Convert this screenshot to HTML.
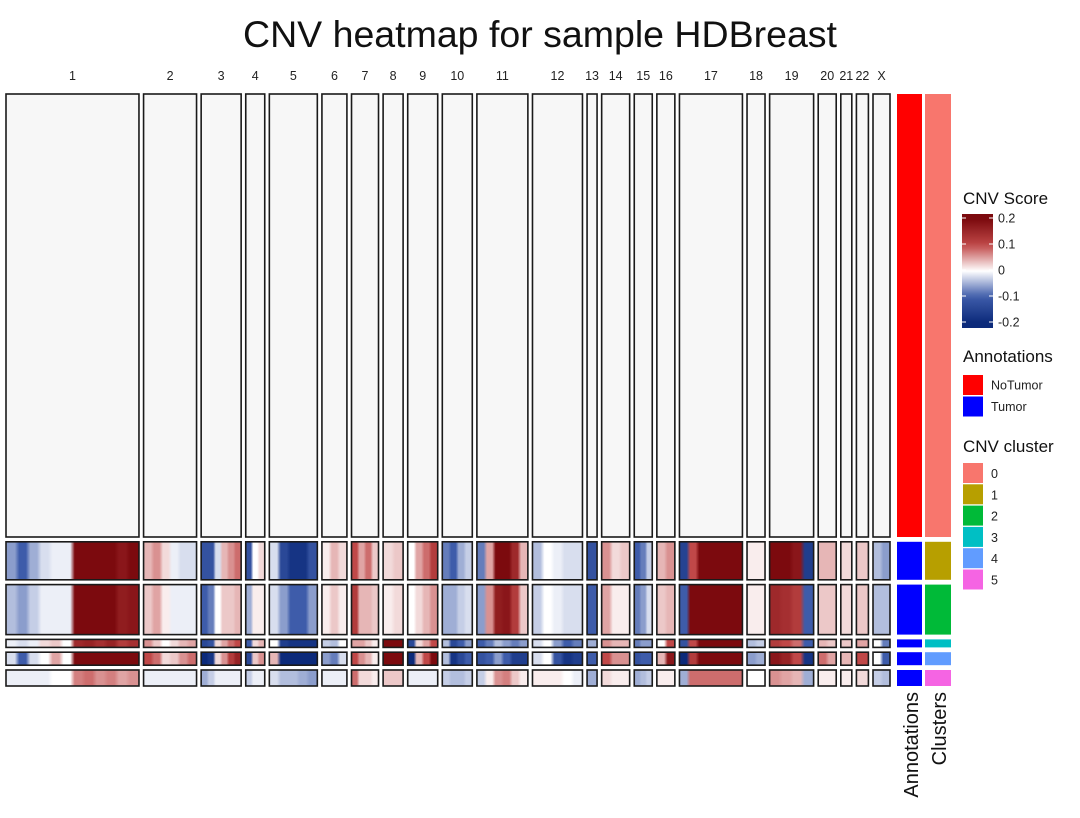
<!DOCTYPE html>
<html><head><meta charset="utf-8"><style>
body{margin:0;background:#fff;}
svg{display:block;font-family:"Liberation Sans",Arial,sans-serif;}
</style></head><body>
<svg id="chart" width="1080" height="818" viewBox="0 0 1080 818">
<text x="540" y="47" text-anchor="middle" font-size="37.5" fill="#111">CNV heatmap for sample HDBreast</text>
<defs id="defs"></defs>
<g id="heat"></g>
<g id="legend"></g>
</svg>
<script>
const chromosomes = ["1","2","3","4","5","6","7","8","9","10","11","12","13","14","15","16","17","18","19","20","21","22","X"];
const geneCounts = [133,53,40,19,48,25,27,20,30,30,51,50,10,28,18,18,63,18,44,18,11,12,17];
const clusterIds = ["0","1","2","3","4","5"];
const cellCounts = [443,38,50,8,13,16];
const annotations = ["NoTumor","Tumor","Tumor","Tumor","Tumor","Tumor"];
const cnvCluster1 = [[-0.06,-0.1,-0.05,-0.02,-0.01,-0.01,0.2,0.2,0.2,0.2,0.18,0.2],[0.04,0.06,0.02,-0.01,-0.02,-0.02],[-0.12,-0.12,-0.02,0.04,0.06,0.08],[-0.12,0.0,0.02],[-0.02,-0.14,-0.18,-0.18,-0.12],[0.01,0.04,0.02],[0.1,0.05,0.08,0.03],[0.02,0.03],[0.0,0.05,0.08,0.12],[-0.08,-0.1,-0.05,-0.03],[-0.08,0.05,0.2,0.2,0.15,0.04],[-0.04,0,-0.01,-0.02,-0.02],[-0.12],[0.06,0.02,0.03],[-0.1,-0.08,-0.03],[0.04,0.06],[-0.15,0.1,0.2,0.2,0.2,0.2,0.2],[0.01,0.01],[0.2,0.2,0.18,-0.16],[0.04,0.04],[0.02],[0.03],[-0.04,-0.06]];
const cnvCluster2 = [[-0.04,-0.06,-0.03,-0.01,-0.01,-0.01,0.2,0.2,0.2,0.2,0.17,0.18],[0.03,0.05,0.01,-0.01,-0.01,-0.01],[-0.1,-0.08,0,0.03,0.03,0.04],[-0.05,0.01,0.01],[-0.02,-0.06,-0.1,-0.1,-0.06],[0.01,0.03,0.01],[0.12,0.04,0.04,0.03],[0.01,0.02],[0.0,0.02,0.04,0.06],[-0.05,-0.05,-0.03,-0.02],[-0.06,0.06,0.17,0.18,0.12,0.03],[-0.03,0,-0.01,-0.02,-0.02],[-0.1],[0.05,0.01,0.01],[-0.08,-0.06,-0.02],[0.03,0.04],[-0.1,0.2,0.2,0.2,0.2,0.2,0.2],[0.01,0.01],[0.15,0.14,0.12,-0.1],[0.03,0.03],[0.02],[0.03],[-0.04,-0.04]];
const cnvCluster3 = [[-0.01,-0.02,-0.01,0.02,0.03,0.0,0.15,0.16,0.14,0.16,0.12,0.14],[0.06,0.03,0.0,0.02,0.04,0.05],[-0.14,-0.12,0.02,0.05,0.08,0.1],[-0.1,0.02,0.04],[0,-0.16,-0.18,-0.18,-0.18],[-0.03,-0.04,0.0],[0.05,0.05,0.03,0.01],[0.2,0.2],[-0.14,0.02,0.05,0.1],[-0.04,-0.14,-0.1,-0.06],[-0.1,-0.08,-0.04,-0.06,-0.08,-0.06],[-0.02,0.0,-0.06,-0.1,-0.08],[-0.05],[0.06,0.04,0.04],[-0.08,-0.06,-0.06],[0.0,0.1],[-0.12,0.1,0.2,0.2,0.2,0.2,0.2],[-0.04,-0.03],[0.12,0.1,0.08,-0.1],[0.04,0.03],[0.03],[0.05],[0.0,-0.08]];
const cnvCluster4 = [[-0.02,-0.1,-0.02,0.0,0.05,0.0,0.2,0.2,0.2,0.2,0.2,0.2],[0.1,0.08,0.02,0.03,0.06,0.08],[-0.2,-0.18,0.02,0.06,0.12,0.16],[-0.14,0.03,0.06],[0.04,-0.2,-0.2,-0.2,-0.2],[-0.06,-0.08,-0.02],[0.1,0.06,0.04,0.01],[0.2,0.2],[-0.2,0.04,0.1,0.2],[-0.04,-0.18,-0.14,-0.1],[-0.12,-0.1,-0.06,-0.1,-0.16,-0.16],[-0.02,0,-0.12,-0.18,-0.16],[-0.1],[0.1,0.06,0.06],[-0.12,-0.1,-0.1],[0.04,0.18],[-0.2,0.12,0.2,0.2,0.2,0.2,0.2],[-0.06,-0.05],[0.18,0.16,0.1,-0.18],[0.08,0.05],[0.04],[0.1],[0.0,-0.1]];
const cnvCluster5 = [[-0.01,-0.01,-0.01,-0.01,0.0,0.0,0.07,0.08,0.06,0.07,0.05,0.06],[-0.01,-0.01,-0.01,-0.01,-0.01,-0.01],[-0.05,-0.03,-0.01,-0.01,-0.01,-0.01],[-0.03,-0.01,-0.01],[-0.02,-0.04,-0.04,-0.05,-0.06],[-0.01,-0.01,-0.01],[0.08,0.02,0.02,0.01],[0.03,0.03],[-0.01,-0.01,-0.01,-0.01],[-0.03,-0.04,-0.04,-0.03],[-0.03,0.01,0.06,0.07,0.03,0.01],[0.01,0.01,0.01,0,-0.01],[-0.05],[0.02,0.01,0.01],[-0.05,-0.04,-0.03],[0.01,0.01],[-0.05,0.08,0.08,0.08,0.08,0.08,0.08],[0.0,0.0],[0.06,0.05,0.04,-0.05],[0.01,0.01],[0.01],[0.02],[-0.03,-0.04]];
const cnvByCluster = [null, cnvCluster1, cnvCluster2, cnvCluster3, cnvCluster4, cnvCluster5];
const scoreTicks = [0.2,0.1,0,-0.1,-0.2];
const annoNames = ["NoTumor","Tumor"];
const annoColors = ["#ff0000","#0000ff"];
const clusterColors = ["#f8766d","#b79f00","#00ba38","#00bfc4","#619cff","#f564e3"];

const NS="http://www.w3.org/2000/svg";
function mk(tag,attrs,parent){const e=document.createElementNS(NS,tag);for(const k in attrs)e.setAttribute(k,attrs[k]);parent.appendChild(e);return e;}
const heat=document.getElementById('heat'), defs=document.getElementById('defs'), leg=document.getElementById('legend');
const X0=6,X1=890,Y0=94,Y1=686,GAPX=4.6,GAPY=4.8;
const totG=geneCounts.reduce((a,b)=>a+b,0), totC=cellCounts.reduce((a,b)=>a+b,0);
const pxPerGene=(X1-X0-GAPX*(geneCounts.length-1))/totG;
const pxPerCell=(Y1-Y0-GAPY*(cellCounts.length-1))/totC;
function xPos(i){let x=X0;for(let k=0;k<i;k++)x+=geneCounts[k]*pxPerGene+GAPX;return x;}
function yPos(j){let y=Y0;for(let k=0;k<j;k++)y+=cellCounts[k]*pxPerCell+GAPY;return y;}
const stops=[[-0.2,[12,42,122]],[-0.1,[62,92,170]],[0,[255,255,255]],[0.1,[192,72,72]],[0.2,[124,10,14]]];
function color(v){v=Math.max(-0.2,Math.min(0.2,v));for(let i=0;i<stops.length-1;i++){const a=stops[i],b=stops[i+1];if(v<=b[0]){const t=(v-a[0])/(b[0]-a[0]);const c=a[1].map((x,k)=>Math.round(x+(b[1][k]-x)*t));return `rgb(${c[0]},${c[1]},${c[2]})`;}}return 'rgb(124,10,14)';}

chromosomes.forEach((c,i)=>{const w=geneCounts[i]*pxPerGene;
 const t=mk('text',{x:xPos(i)+w/2,y:80,'text-anchor':'middle','font-size':12.5,fill:'#222'},heat);t.textContent=c;
 
 
});
let gid=0;
clusterIds.forEach((cl,j)=>{const y=yPos(j),h=cellCounts[j]*pxPerCell;
 chromosomes.forEach((c,i)=>{const x=xPos(i),w=geneCounts[i]*pxPerGene;let fill='#f7f7f7';
  const vals=cnvByCluster[j]?cnvByCluster[j][i]:null;
  if(vals){const id='g'+(gid++);const g=mk('linearGradient',{id:id,x1:0,x2:1,y1:0,y2:0},defs);const n=vals.length;
   vals.forEach((v,k)=>{mk('stop',{offset:(k+0.2)/n,'stop-color':color(v)},g);mk('stop',{offset:(k+0.8)/n,'stop-color':color(v)},g);});fill=`url(#${id})`;}
  const r=mk('rect',{x:x,y:y,width:w,height:h,fill:fill,stroke:'#1a1a1a','stroke-width':1.6},heat);
  
  
 });
 const a=mk('rect',{x:897,y:y,width:25,height:h,fill:annoColors[annoNames.indexOf(annotations[j])]},heat);
 
 
 const b=mk('rect',{x:925,y:y,width:26,height:h,fill:clusterColors[j]},heat);
 
 
});
const at=mk('text',{transform:'translate(918,692) rotate(-90)','text-anchor':'end','font-size':20,fill:'#111'},heat);at.textContent='Annotations';


const ct=mk('text',{transform:'translate(946,692) rotate(-90)','text-anchor':'end','font-size':20,fill:'#111'},heat);ct.textContent='Clusters';



let t=mk('text',{x:963,y:204,'font-size':17,fill:'#111'},leg);t.textContent='CNV Score';


const lg=mk('linearGradient',{id:'cbar',x1:0,x2:0,y1:0,y2:1},defs);
for(let k=0;k<=20;k++){const v=0.22-0.44*k/20;mk('stop',{offset:k/20,'stop-color':color(v)},lg);}
const cbY0=214,cbY1=328;
const cb=mk('rect',{x:962,y:cbY0,width:31,height:cbY1-cbY0,fill:'url(#cbar)'},leg);


function yScore(v){return 270-v*260;}
scoreTicks.forEach(v=>{const y=yScore(v);
 mk('line',{x1:962,x2:966,y1:y,y2:y,stroke:'#fff','stroke-width':1},leg);
 mk('line',{x1:989,x2:993,y1:y,y2:y,stroke:'#fff','stroke-width':1},leg);
 const tt=mk('text',{x:998,y:y+4.5,'font-size':12.5,fill:'#222'},leg);tt.textContent=v===0?'0':String(v);
 
 
});
t=mk('text',{x:963,y:362,'font-size':17,fill:'#111'},leg);t.textContent='Annotations';


annoNames.forEach((n,k)=>{const y=375+k*21.5;
 const r=mk('rect',{x:963,y:y,width:20,height:20,fill:annoColors[k]},leg);
 
 
 const tt=mk('text',{x:991,y:y+14.5,'font-size':12.5,fill:'#222'},leg);tt.textContent=n;
 
 
});
t=mk('text',{x:963,y:452,'font-size':17,fill:'#111'},leg);t.textContent='CNV cluster';


clusterIds.forEach((n,k)=>{const y=463+k*21.3;
 const r=mk('rect',{x:963,y:y,width:20,height:20,fill:clusterColors[k]},leg);
 
 
 const tt=mk('text',{x:991,y:y+15,'font-size':12.5,fill:'#222'},leg);tt.textContent=n;
 
 
});
</script>
</body></html>
